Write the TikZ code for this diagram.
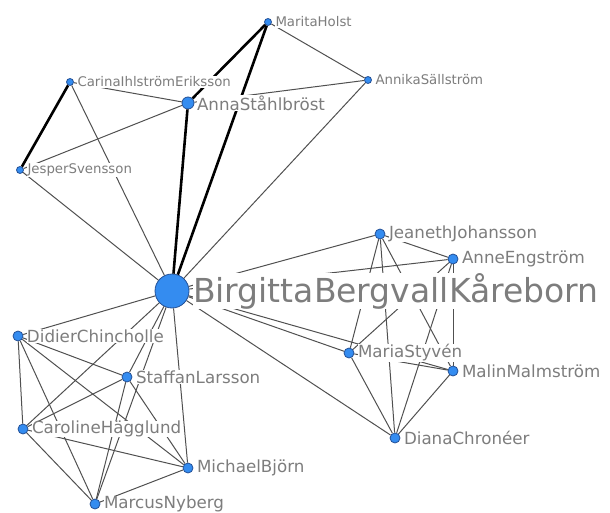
\documentclass[tikz,border=0pt]{standalone}
\usepackage{fontspec}
\setmainfont{DejaVu Sans}
\definecolor{nodefill}{RGB}{52,140,240}
\definecolor{nodeline}{RGB}{35,80,150}
\definecolor{labelgray}{RGB}{125,125,125}
\definecolor{edgegray}{RGB}{80,80,80}
\tikzset{
  actor/.style={circle, fill=nodefill, draw=nodeline, line width=0.8pt, inner sep=0pt},
  actorS/.style={actor, minimum size=7pt},
  actorM/.style={actor, minimum size=10pt},
  pnm/.style={text=labelgray, fill=white, inner sep=0.4pt, anchor=west, font=\fontsize{16.7}{18}\selectfont},
  snm/.style={pnm, font=\fontsize{13.3}{15}\selectfont},
  bnm/.style={pnm, font=\fontsize{33}{35}\selectfont},
  tie/.style={draw=edgegray, line width=1pt},
  strongtie/.style={draw=black, line width=2.6pt},
}
\begin{document}
\begin{tikzpicture}[x=1pt,y=-1pt]
\useasboundingbox (0,0) rectangle (610,513);
% actors
\node[actorS] (mh) at (268,22) {};
\node[actorS] (asa) at (368,80) {};
\node[actorS] (ci) at (70,82) {};
\node[actor, minimum size=12pt] (ast) at (188,103) {};
\node[actorS] (js) at (20,170) {};
\node[actor, minimum size=34pt] (bb) at (172,291) {};
\node[actorM] (jj) at (380,234) {};
\node[actorM] (ae) at (453,259) {};
\node[actorM] (dc) at (18,336) {};
\node[actorM] (ms) at (349,353) {};
\node[actorM] (sl) at (127,377) {};
\node[actorM] (mm) at (453,371) {};
\node[actorM] (ch) at (23,429) {};
\node[actorM] (dch) at (395,438) {};
\node[actorM] (mb) at (188,468) {};
\node[actorM] (mn) at (95,504) {};
% ties
\draw[strongtie] (mh) -- (ast);
\draw[strongtie] (mh) -- (bb);
\draw[strongtie] (ast) -- (bb);
\draw[strongtie] (ci) -- (js);
\draw[tie] (mh) -- (asa);
\draw[tie] (asa) -- (ast);
\draw[tie] (asa) -- (bb);
\draw[tie] (ci) -- (ast);
\draw[tie] (ci) -- (bb);
\draw[tie] (js) -- (ast);
\draw[tie] (js) -- (bb);
\draw[tie] (bb) -- (jj);
\draw[tie] (bb) -- (ae);
\draw[tie] (bb) -- (ms);
\draw[tie] (bb) -- (mm);
\draw[tie] (bb) -- (dch);
\draw[tie] (bb) -- (dc);
\draw[tie] (bb) -- (ch);
\draw[tie] (bb) -- (sl);
\draw[tie] (bb) -- (mn);
\draw[tie] (bb) -- (mb);
\draw[tie] (jj) -- (ae);
\draw[tie] (jj) -- (ms);
\draw[tie] (jj) -- (dch);
\draw[tie] (jj) -- (mm);
\draw[tie] (ae) -- (ms);
\draw[tie] (ae) -- (dch);
\draw[tie] (ae) -- (mm);
\draw[tie] (ms) -- (mm);
\draw[tie] (ms) -- (dch);
\draw[tie] (mm) -- (dch);
\draw[tie] (dc) -- (ch);
\draw[tie] (dc) -- (mn);
\draw[tie] (dc) -- (mb);
\draw[tie] (dc) -- (sl);
\draw[tie] (sl) -- (ch);
\draw[tie] (sl) -- (mn);
\draw[tie] (sl) -- (mb);
\draw[tie] (ch) -- (mn);
\draw[tie] (ch) -- (mb);
\draw[tie] (mn) -- (mb);
% labels (white boxes hide the ties behind them)
\node[snm] (mhL) at ([xshift=3pt]mh.east) {MaritaHolst};
\node[snm] (asaL) at ([xshift=3pt]asa.east) {AnnikaSällström};
\node[snm] (ciL) at ([xshift=3pt]ci.east) {CarinaIhlströmEriksson};
\node[pnm] (astL) at ([xshift=2pt]ast.east) {AnnaStåhlbröst};
\node[snm] (jsL) at ([xshift=3pt]js.east) {JesperSvensson};
\node[bnm] (bbL) at ([xshift=3pt]bb.east) {BirgittaBergvallKåreborn};
\node[pnm] (jjL) at ([xshift=3pt]jj.east) {JeanethJohansson};
\node[pnm] (aeL) at ([xshift=3pt]ae.east) {AnneEngström};
\node[pnm] (dcL) at ([xshift=3pt]dc.east) {DidierChincholle};
\node[pnm] (msL) at ([xshift=3pt]ms.east) {MariaStyvén};
\node[pnm] (slL) at ([xshift=3pt]sl.east) {StaffanLarsson};
\node[pnm] (mmL) at ([xshift=3pt]mm.east) {MalinMalmström};
\node[pnm] (chL) at ([xshift=3pt]ch.east) {CarolineHägglund};
\node[pnm] (dchL) at ([xshift=3pt]dch.east) {DianaChronéer};
\node[pnm] (mbL) at ([xshift=3pt]mb.east) {MichaelBjörn};
\node[pnm] (mnL) at ([xshift=3pt]mn.east) {MarcusNyberg};
\end{tikzpicture}
\end{document}
